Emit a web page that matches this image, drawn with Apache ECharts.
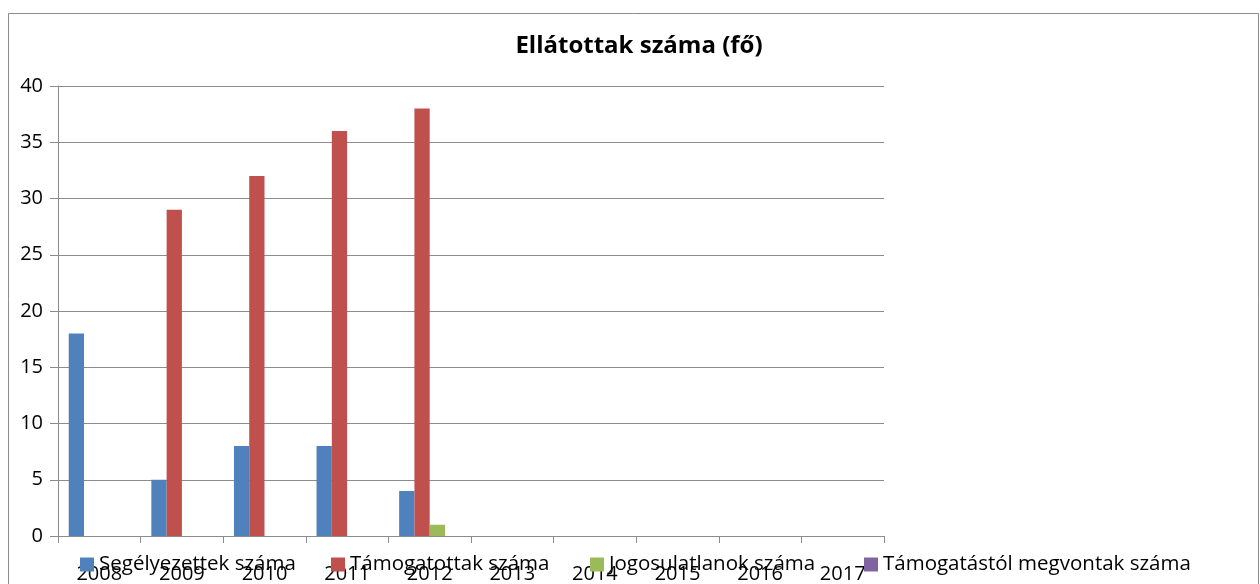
<!DOCTYPE html>
<html>
<head>
<meta charset="utf-8">
<script src="https://cdn.jsdelivr.net/npm/echarts@6/dist/echarts.min.js"></script>
<style>html,body{margin:0;padding:0;background:#fff}#c{width:1260px;height:584px}</style>
</head>
<body>
<div id="c"></div>
<script>
const categories = ['2008','2009','2010','2011','2012','2013','2014','2015','2016','2017'];
const segelyezettek = [18, 5, 8, 8, 4, 0, 0, 0, 0, 0];
const tamogatottak = [0, 29, 32, 36, 38, 0, 0, 0, 0, 0];
const jogosulatlanok = [0, 0, 0, 0, 1, 0, 0, 0, 0, 0];
const megvontak = [0, 0, 0, 0, 0, 0, 0, 0, 0, 0];
const seriesNames = ['Segélyezettek száma','Támogatottak száma','Jogosulatlanok száma','Támogatástól megvontak száma'];
const colors = ['#4F81BD','#C0504D','#9BBB59','#8064A2'];
const yTicks = {min: 0, max: 40, interval: 5};
const legendLefts = [80, 331, 590, 864];

const font = '"Open Sans", Lato, sans-serif';
const chart = echarts.init(document.getElementById('c'), null, {renderer: 'canvas'});
const data = [segelyezettek, tamogatottak, jogosulatlanok, megvontak];
chart.setOption({
  animation: false,
  backgroundColor: '#fff',
  color: colors,
  title: {
    text: 'Ellátottak száma (fő)',
    left: 634, top: 29, textAlign: 'center',
    textStyle: {fontFamily: font, fontSize: 24, fontWeight: 'bold', color: '#000'}
  },
  graphic: [{
    type: 'rect', shape: {x: 8.5, y: 13.5, width: 1250, height: 620},
    style: {fill: 'none', stroke: '#8c8c8c', lineWidth: 1}, silent: true, z: -1
  }],
  legend: seriesNames.map((n, i) => ({
    left: legendLefts[i], top: 554, padding: 0, itemWidth: 14, itemHeight: 14,
    icon: 'rect',
    textStyle: {fontFamily: font, fontSize: 20.5, color: '#000'},
    data: [n]
  })),
  grid: {left: 58, right: 376, top: 86, bottom: 46, containLabel: false},
  xAxis: {
    type: 'category', data: categories,
    axisLine: {lineStyle: {color: '#8c8c8c'}},
    axisTick: {show: true, length: 7, alignWithLabel: false, lineStyle: {color: '#8c8c8c'}},
    axisLabel: {fontFamily: font, fontSize: 20, color: '#000', margin: 28}
  },
  yAxis: {
    type: 'value', min: yTicks.min, max: yTicks.max, interval: yTicks.interval,
    axisLine: {show: true, lineStyle: {color: '#8c8c8c'}},
    axisTick: {show: true, length: 8, inside: false, lineStyle: {color: '#8c8c8c'}},
    axisLabel: {fontFamily: font, fontSize: 20, color: '#000', margin: 15},
    splitLine: {lineStyle: {color: '#8c8c8c'}}
  },
  series: seriesNames.map((n, i) => ({
    name: n, type: 'bar', data: data[i],
    barGap: '0%', barCategoryGap: '26%',
    itemStyle: {color: colors[i]}
  }))
});
</script>
</body>
</html>
